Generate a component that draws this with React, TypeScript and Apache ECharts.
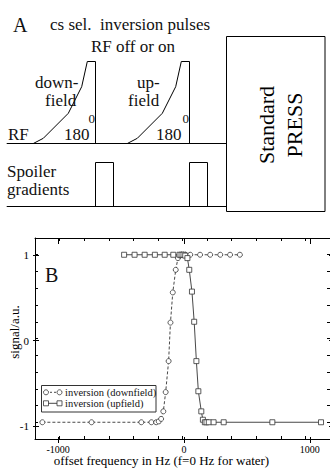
import React, { useEffect, useRef } from "react";
import * as echarts from "echarts";

// ---- Panel B data ----
const downfieldX = [-1140, -740, -335, -253, -214, -193, -174, -156, -137, -113, -98, -79, -55, -37, -21, -8, 8, 24, 63, 143, 225, 307, 387, 467];
const downfieldY = [-1, -1, -1, -1, -1, -0.99, -0.96, -0.87, -0.64, -0.27, 0.19, 0.55, 0.82, 0.96, 0.99, 1, 1, 1, 1, 1, 1, 1, 1, 1];
const upfieldX = [-475, -390, -308, -225, -145, -75, -24, -8, 8, 22, 40, 55, 77, 95, 113, 129, 153, 166, 182, 195, 214, 253, 335, 731, 1127];
const upfieldY = [1, 1, 1, 1, 1, 1, 1, 1, 1, 0.99, 0.96, 0.82, 0.56, 0.2, -0.27, -0.63, -0.87, -0.97, -1, -1, -1, -1, -1, -1, -1];
const seriesNames = ["inversion (downfield)", "inversion (upfield)"];
const xTickLabels = [-1000, 0, 1000];
const yTickLabels = [-1, 0, 1];
const xTitle = "offset frequency in Hz (f=0 Hz for water)";
const yTitle = "signal/a.u.";

const FONT = '"Liberation Serif", "Times New Roman", Times, serif';

// plot-area layout (pixels)
const PL = 33, PT = 238, PW = 302, PH = 205;
const XMIN = -1200, XMAX = 1200, YMIN = -1.2, YMAX = 1.2;
const MAJX0 = -1000, MAJX1 = 1000, MAJY0 = -1, MAJY1 = 1;
const g1Left = PL + ((MAJX0 - XMIN) / (XMAX - XMIN)) * PW;
const g1Width = ((MAJX1 - MAJX0) / (XMAX - XMIN)) * PW;
const g1Top = PT + ((YMAX - MAJY1) / (YMAX - YMIN)) * PH;
const g1Height = ((MAJY1 - MAJY0) / (YMAX - YMIN)) * PH;
const offX = g1Left - PL;
const offY = g1Top - PT;

function txt(text: string, x: number, baseline: number, size: number, align = "left", extra: any = {}) {
  return {
    type: "text",
    x,
    y: baseline - 0.34 * size,
    style: { text, fontSize: size, fontFamily: FONT, fontWeight: "normal", fill: "#111111", align, verticalAlign: "middle" },
    ...extra,
  };
}

function pulse(dx: number) {
  const pts = [[33.3, 143.5], [43.3, 138.3], [68.3, 113.3], [81.7, 86.7], [87.3, 61.5], [95.5, 61.5], [95.5, 143.5]];
  return {
    type: "polyline",
    shape: { points: pts.map(([x, y]) => [x + dx, y]) },
    style: { stroke: "#000", lineWidth: 1, fill: "none" },
  };
}

function spoiler(x0: number) {
  return {
    type: "polyline",
    shape: { points: [[x0, 206.5], [x0, 162.5], [x0 + 18, 162.5], [x0 + 18, 206.5]] },
    style: { stroke: "#000", lineWidth: 1, fill: "none" },
  };
}

export default function App() {
  const ref = useRef<HTMLDivElement>(null);
  useEffect(() => {
    const chart = echarts.init(ref.current!, null, { renderer: "svg" });
    const lineCol = "#000";
    const minorAxis = (pos: string, dim: "x" | "y", withName: boolean) => {
      const base: any = {
        type: "value",
        gridIndex: 0,
        position: pos,
        min: dim === "x" ? XMIN : YMIN,
        max: dim === "x" ? XMAX : YMAX,
        interval: dim === "x" ? 200 : 0.2,
        axisLine: { show: true, onZero: false, lineStyle: { color: lineCol, width: 1 } },
        axisTick: { show: true, inside: true, length: 3, lineStyle: { color: lineCol, width: 1 } },
        axisLabel: { show: false },
        splitLine: { show: false },
      };
      if (withName && dim === "x") {
        Object.assign(base, {
          name: xTitle,
          nameLocation: "middle",
          nameGap: 15,
          nameTextStyle: { fontFamily: FONT, fontSize: 13, lineHeight: 13, color: "#000", padding: [0, 42, 0, 0] },
        });
      }
      if (withName && dim === "y") {
        Object.assign(base, {
          name: yTitle,
          nameLocation: "middle",
          nameGap: 14,
          nameTextStyle: { fontFamily: FONT, fontSize: 13, color: "#000", padding: [0, 0, 0, 13] },
        });
      }
      return base;
    };
    const majorAxis = (pos: string, dim: "x" | "y", labels: boolean) => ({
      type: "value",
      gridIndex: 1,
      position: pos,
      offset: dim === "x" ? offY : offX,
      min: dim === "x" ? MAJX0 : MAJY0,
      max: dim === "x" ? MAJX1 : MAJY1,
      interval: dim === "x" ? 1000 : 1,
      axisLine: { show: false, onZero: false },
      axisTick: { show: true, inside: true, length: 6, lineStyle: { color: lineCol, width: 1 } },
      axisLabel: {
        show: labels,
        fontFamily: FONT,
        fontSize: dim === "x" ? 10 : 11,
        lineHeight: dim === "x" ? 10 : 12,
        color: "#000",
        margin: dim === "x" ? 1 : 4,
        formatter: (v: number) => {
          const list = dim === "x" ? xTickLabels : yTickLabels;
          const r = Math.round(v);
          return list.indexOf(r) >= 0 ? String(r) : "";
        },
      },
      splitLine: { show: false },
    });

    const symStyle = { color: "#fff", borderColor: "#333", borderWidth: 0.8 };

    const legendY1 = 392.3, legendY2 = 403.3;
    const option: any = {
      animation: false,
      backgroundColor: "#fff",
      grid: [
        { left: PL, top: PT, width: PW, height: PH, containLabel: false },
        { left: g1Left, top: g1Top, width: g1Width, height: g1Height, containLabel: false },
      ],
      xAxis: [minorAxis("bottom", "x", true), minorAxis("top", "x", false), majorAxis("bottom", "x", true), majorAxis("top", "x", false)],
      yAxis: [minorAxis("left", "y", true), minorAxis("right", "y", false), majorAxis("left", "y", true), majorAxis("right", "y", false)],
      series: [
        {
          name: seriesNames[0],
          type: "line",
          xAxisIndex: 0,
          yAxisIndex: 0,
          data: downfieldX.map((x, i) => [x, downfieldY[i]]),
          symbol: "circle",
          symbolSize: 5,
          itemStyle: symStyle,
          lineStyle: { color: "#333", width: 0.9, type: [3, 2] },
          z: 3,
        },
        {
          name: seriesNames[1],
          type: "line",
          xAxisIndex: 0,
          yAxisIndex: 0,
          data: upfieldX.map((x, i) => [x, upfieldY[i]]),
          symbol: "rect",
          symbolSize: 5,
          itemStyle: symStyle,
          lineStyle: { color: "#333", width: 0.9 },
          z: 4,
        },
      ],
      graphic: [
        // ---- Panel A ----
        txt("A", 13, 32, 20),
        txt("cs sel.  inversion pulses", 50, 30, 17),
        txt("RF off or on", 133, 52, 17, "center"),
        { type: "line", shape: { x1: 6.7, y1: 143.5, x2: 226.5, y2: 143.5 }, style: { stroke: "#000", lineWidth: 1 } },
        { type: "line", shape: { x1: 6.7, y1: 206.5, x2: 226.5, y2: 206.5 }, style: { stroke: "#000", lineWidth: 1 } },
        pulse(0),
        pulse(94),
        spoiler(95.5),
        spoiler(189.5),
        { type: "rect", shape: { x: 226.5, y: 36.5, width: 98.5, height: 175 }, style: { stroke: "#000", lineWidth: 1, fill: "#fff" } },
        txt("down-", 35, 88, 17),
        txt("field", 45, 106, 17),
        txt("180", 64, 140, 17),
        txt("0", 88.5, 123, 13),
        txt("up-", 137, 88, 17),
        txt("field", 128, 106, 17),
        txt("180", 156, 140, 17),
        txt("0", 182.5, 123, 13),
        txt("RF", 8, 140, 17),
        txt("Spoiler", 7, 177, 17),
        txt("gradients", 7, 195, 17),
        {
          type: "text",
          x: 266.7,
          y: 125,
          rotation: Math.PI / 2,
          style: { text: "Standard", fontSize: 22, fontFamily: FONT, fill: "#000", align: "center", verticalAlign: "middle" },
        },
        {
          type: "text",
          x: 294,
          y: 125,
          rotation: Math.PI / 2,
          style: { text: "PRESS", fontSize: 22, fontFamily: FONT, fill: "#000", align: "center", verticalAlign: "middle" },
        },
        // ---- Panel B label ----
        txt("B", 45, 282, 20),
        // ---- Panel B legend ----
        {
          type: "group",
          z: 10,
          children: [
            { type: "rect", shape: { x: 41.5, y: 385.5, width: 114.5, height: 26.5 }, style: { stroke: "#333", lineWidth: 1, fill: "#fff" } },
            { type: "line", shape: { x1: 46, y1: legendY1, x2: 59.5, y2: legendY1 }, style: { stroke: "#333", lineWidth: 0.9, lineDash: [2, 2] } },
            { type: "circle", shape: { cx: 46, cy: legendY1, r: 2.5 }, style: { stroke: "#333", lineWidth: 0.8, fill: "#fff" } },
            { type: "circle", shape: { cx: 59.5, cy: legendY1, r: 2.5 }, style: { stroke: "#333", lineWidth: 0.8, fill: "#fff" } },
            { type: "line", shape: { x1: 46, y1: legendY2, x2: 59.5, y2: legendY2 }, style: { stroke: "#333", lineWidth: 0.9 } },
            { type: "rect", shape: { x: 43.5, y: legendY2 - 2.5, width: 5, height: 5 }, style: { stroke: "#333", lineWidth: 0.8, fill: "#fff" } },
            { type: "rect", shape: { x: 57, y: legendY2 - 2.5, width: 5, height: 5 }, style: { stroke: "#333", lineWidth: 0.8, fill: "#fff" } },
            txt(seriesNames[0], 65, legendY1 + 3.6, 10.5),
            txt(seriesNames[1], 65, legendY2 + 3.6, 10.5),
          ],
        },
      ],
    };
    chart.setOption(option);
    return () => chart.dispose();
  }, []);
  return (
    <div
      ref={ref}
      style={{ position: "absolute", left: 0, top: 0, width: 330, height: 468, background: "#fff", overflow: "hidden" }}
    />
  );
}
